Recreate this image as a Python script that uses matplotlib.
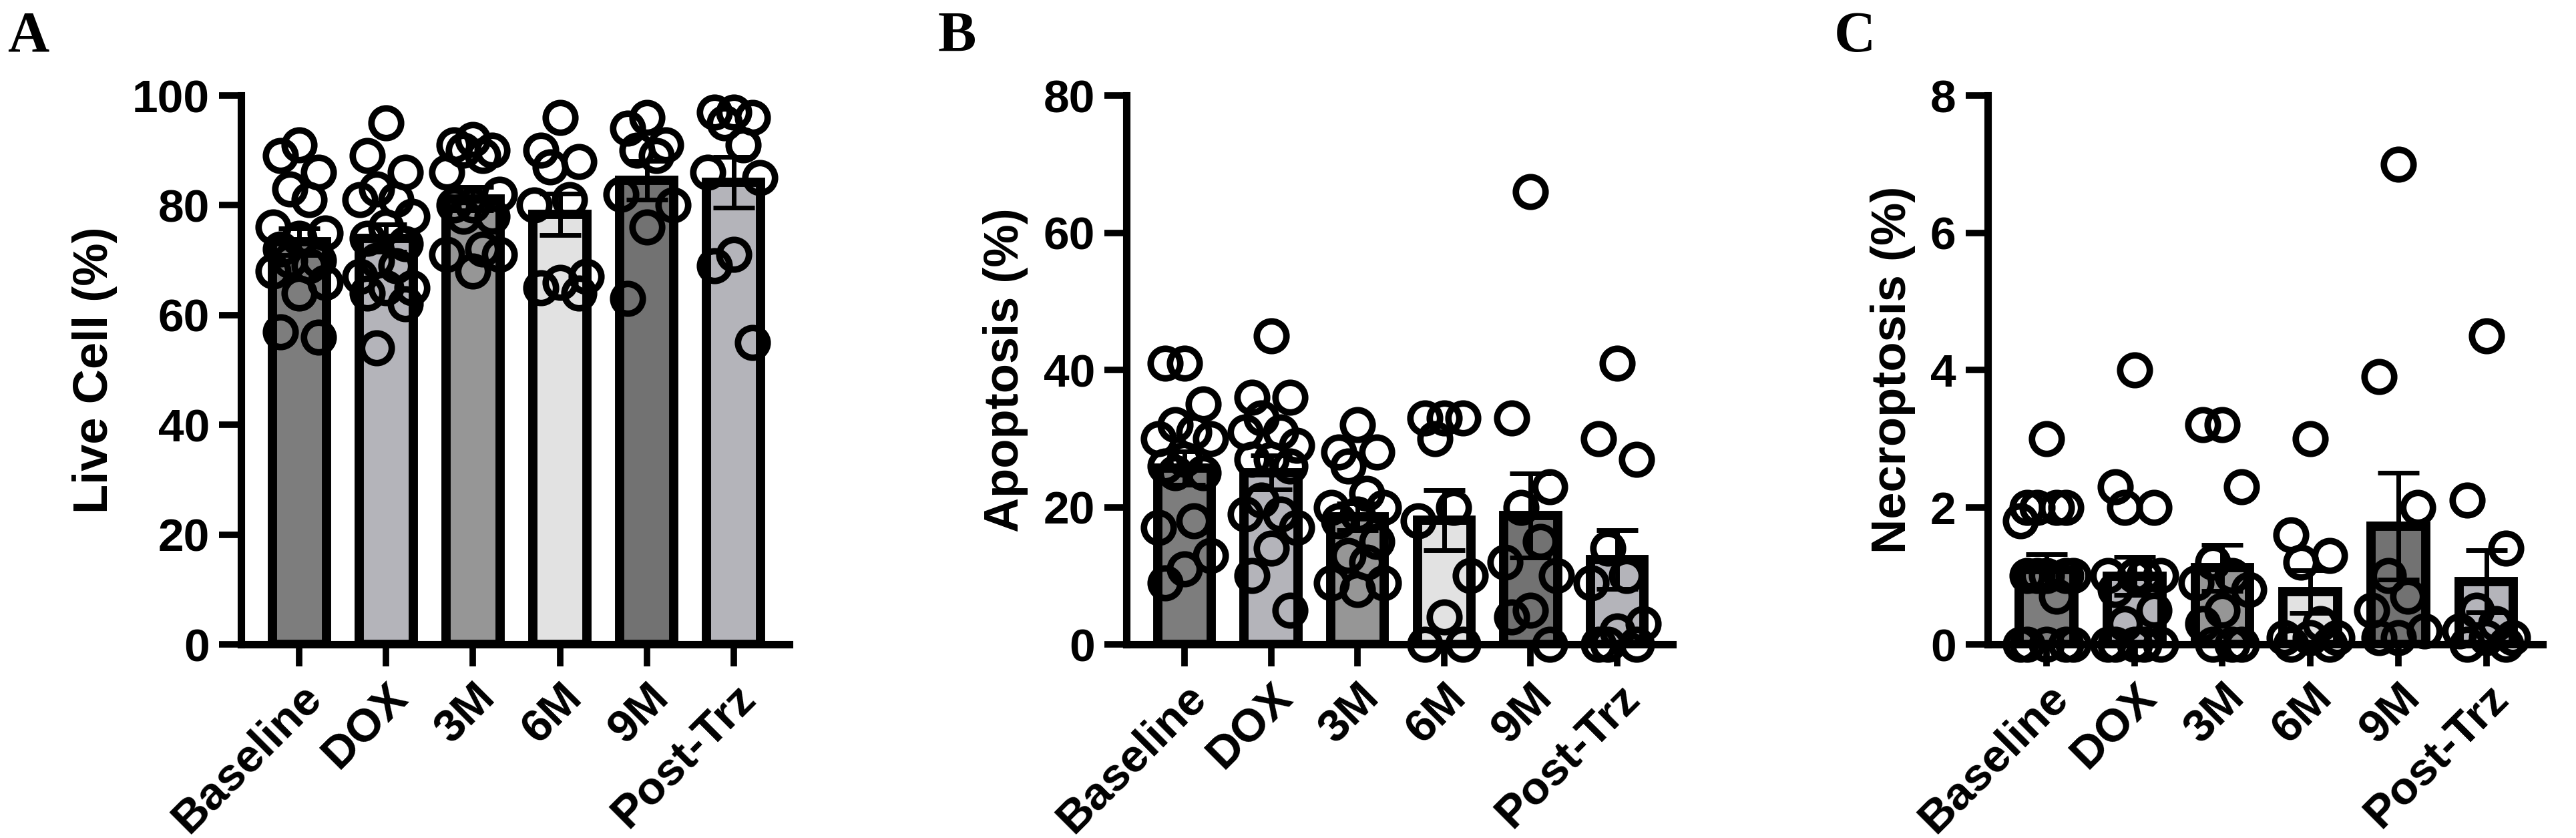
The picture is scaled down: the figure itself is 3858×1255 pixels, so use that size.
import matplotlib
matplotlib.use("Agg")
import matplotlib.pyplot as plt
import numpy as np

groups = ["Baseline", "DOX", "3M", "6M", "9M", "Post-Trz"]
bar_colors = ["#7d7d7d", "#b4b4ba", "#969696", "#e2e2e2", "#727272", "#b4b4ba"]

# panel A: live cells (%)
live = [
    [91, 89, 86, 83, 81, 76, 75, 74, 72, 70, 70, 69, 68, 66, 64, 57, 56],
    [95, 89, 86, 83, 81, 81, 78, 76, 74, 73, 70, 69, 67, 65, 65, 64, 62, 54],
    [92, 91, 90, 90, 89, 86, 82, 80, 80, 78, 78, 72, 71, 71, 68],
    [96, 90, 88, 87, 81, 80, 67, 66, 65, 64],
    [96, 94, 91, 90, 89, 82, 80, 76, 63],
    [97, 97, 96, 95, 91, 86, 85, 71, 69, 55],
]
# panel B: apoptosis (%)
apop = [
    [41, 41, 35, 32, 31, 30, 30, 27, 26, 25, 25, 18, 17, 13, 11, 9],
    [45, 36, 36, 33, 31, 31, 29, 27, 27, 26, 21, 19, 19, 17, 14, 10, 5],
    [32, 28, 28, 26, 22, 20, 20, 19, 18, 15, 13, 12, 9, 9, 8],
    [33, 33, 33, 30, 20, 18, 10, 4, 0, 0],
    [66, 33, 23, 20, 15, 12, 10, 5, 4, 0],
    [41, 30, 27, 14, 10, 9, 3, 2, 0, 0, 0],
]
# panel C: necroptosis (%)
necro = [
    [3, 2, 2, 2, 2, 1.8, 1, 1, 1, 1, 1, 0.7, 0, 0, 0, 0, 0],
    [4, 2.3, 2, 2, 1, 1, 1, 1, 0.8, 0.5, 0.3, 0, 0, 0, 0, 0],
    [3.2, 3.2, 2.3, 1.2, 1.0, 0.9, 0.8, 0.5, 0.3, 0, 0, 0],
    [3, 1.6, 1.3, 1.2, 0.3, 0.1, 0.1, 0.1, 0, 0],
    [7, 3.9, 2, 1.0, 0.7, 0.5, 0.2, 0.1, 0.1],
    [4.5, 2.1, 1.4, 0.5, 0.3, 0.2, 0.1, 0.1, 0, 0],
]

panels = [
    ("A", live, "Live Cell (%)", 100, 20, 0.0936, 0.3064, 0.003),
    ("B", apop, "Apoptosis (%)", 80, 20, 0.4373, 0.6493, 0.364),
    ("C", necro, "Necroptosis (%)", 8, 2, 0.7716, 0.9870, 0.712),
]

plt.rcParams["font.family"] = ["Liberation Sans", "DejaVu Sans"]
plt.rcParams["font.weight"] = "bold"

fig = plt.figure(figsize=(38.58, 12.55), dpi=100)
offs = [0.0, -0.22, 0.22, -0.11, 0.11, -0.3, 0.3]

for letter, data, ylab, ymax, ystep, x0, x1, lx in panels:
    ax = fig.add_axes([x0, 0.231, x1 - x0, 0.655])
    x = np.arange(len(groups))
    means = [np.mean(d) for d in data]
    sems = [np.std(d, ddof=1) / np.sqrt(len(d)) for d in data]
    ax.bar(x, means, width=0.62, color=bar_colors, edgecolor="black", linewidth=10, zorder=1)
    ax.errorbar(x, means, yerr=sems, fmt="none", ecolor="black", elinewidth=5,
                capsize=22, capthick=5, zorder=2)
    for i, d in enumerate(data):
        xs = [i + offs[j % len(offs)] for j in range(len(d))]
        ax.plot(xs, d, "o", ms=32, mfc="none", mec="black", mew=7, zorder=3, clip_on=False)
    ax.set_xlim(-0.67, 5.64)
    ax.set_ylim(0, ymax)
    ax.set_yticks(np.arange(0, ymax + ystep / 2, ystep))
    ax.set_xticks(x)
    ax.set_xticklabels(groups, rotation=45, ha="right", rotation_mode="anchor")
    for s in ["top", "right"]:
        ax.spines[s].set_visible(False)
    for s in ["left", "bottom"]:
        ax.spines[s].set_linewidth(8)
    ax.tick_params(width=7, length=24, labelsize=50, pad=10)
    ax.set_ylabel(ylab, fontsize=52, fontweight="bold", labelpad=16)
    fig.text(lx, 0.955, letter, fontsize=62, fontweight="bold",
             family=["Liberation Serif", "DejaVu Serif"], va="center")

fig.savefig("out.png", dpi=100)
